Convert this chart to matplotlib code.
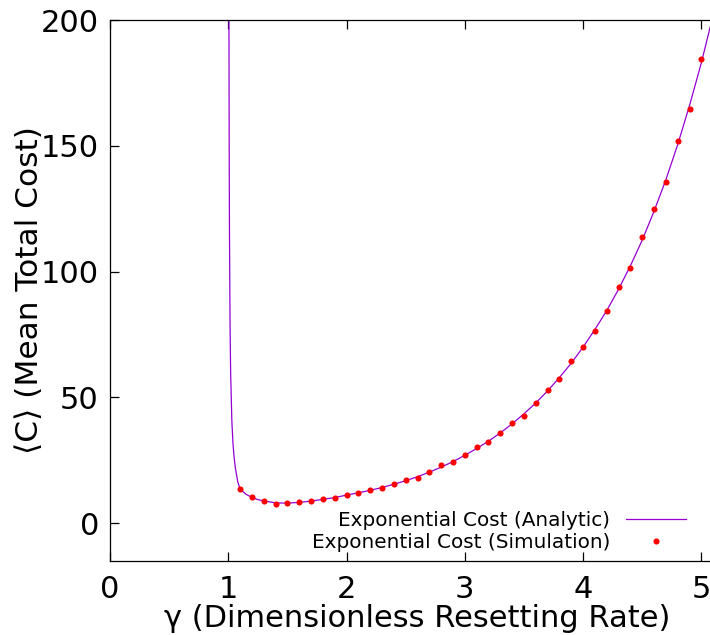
import matplotlib
matplotlib.use('Agg')
import matplotlib.pyplot as plt

# Analytic curve.
gamma_analytic = [1.004, 1.006, 1.008, 1.01, 1.015, 1.02, 1.03, 1.04, 1.05,
                  1.06, 1.08, 1.1, 1.15, 1.2, 1.25, 1.3, 1.4, 1.5, 1.6, 1.7,
                  1.8, 1.9, 2.0, 2.1, 2.2, 2.3, 2.4, 2.5, 2.6, 2.7, 2.8, 2.9,
                  3.0, 3.1, 3.2, 3.3, 3.4, 3.5, 3.6, 3.7, 3.8, 3.9, 4.0, 4.1,
                  4.2, 4.3, 4.4, 4.5, 4.6, 4.7, 4.8, 4.9, 5.0, 5.1, 5.2]
cost_analytic = [290, 192, 145, 117, 79, 60, 41, 31.5, 26, 22, 16.5, 13.6,
                 11.5, 10.3, 9.4, 8.9, 8.1, 8.0, 8.3, 8.8, 9.5, 10.2, 11.2,
                 12.1, 13.1, 14.2, 15.5, 16.9, 18.5, 20.3, 22.3, 24.5, 27.0,
                 29.7, 32.6, 35.9, 39.5, 43.5, 47.8, 52.6, 57.9, 63.6, 70.0,
                 77.0, 84.5, 93.0, 102.3, 112.5, 124.0, 136.5, 150.5, 166.0,
                 183.0, 202.0, 223.0]

# Simulation points.
gamma_sim = [1.1, 1.2, 1.3, 1.4, 1.5, 1.6, 1.7, 1.8, 1.9, 2.0, 2.1, 2.2, 2.3,
             2.4, 2.5, 2.6, 2.7, 2.8, 2.9, 3.0, 3.1, 3.2, 3.3, 3.4, 3.5, 3.6,
             3.7, 3.8, 3.9, 4.0, 4.1, 4.2, 4.3, 4.4, 4.5, 4.6, 4.7, 4.8, 4.9,
             5.0]
cost_sim = [13.5, 10.3, 8.9, 7.8, 8.2, 8.3, 8.9, 9.5, 10.2, 11.2, 12.0, 13.2,
            14.0, 15.5, 17.0, 18.1, 20.2, 23.0, 24.3, 27.1, 30.3, 32.1, 35.7,
            39.8, 42.5, 47.7, 52.9, 57.3, 64.6, 70.1, 76.5, 84.4, 93.9, 101.6,
            113.8, 124.9, 135.6, 151.9, 164.8, 184.4]

x_ticks = [0, 1, 2, 3, 4, 5]
y_ticks = [0, 50, 100, 150, 200]

fig = plt.figure(figsize=(7.1, 6.35), dpi=100)
ax = fig.add_axes([110 / 710, 74 / 635, 615 / 710, 541 / 635])

ax.plot(gamma_analytic, cost_analytic, color='#9400d3', linewidth=0.9,
        label='Exponential Cost (Analytic)')
ax.plot(gamma_sim, cost_sim, linestyle='none', marker='o', markersize=4.4,
        color='red', markeredgewidth=0,
        label='Exponential Cost (Simulation)')

ax.set_xlim(0, 5.2)
ax.set_ylim(-15, 200)
ax.set_xticks(x_ticks)
ax.set_yticks(y_ticks)
ax.tick_params(direction='in', length=6.5, width=0.9, labelsize=22,
               top=True, right=True, pad=8)
ax.tick_params(axis='x', pad=10)
for s in ax.spines.values():
    s.set_linewidth(0.9)

ax.set_xlabel('γ (Dimensionless Resetting Rate)', fontsize=22, labelpad=0)
ax.set_ylabel('⟨C⟩ (Mean Total Cost)', fontsize=22.5)
ax.yaxis.set_label_coords(-0.108, 0.5)

ax.legend(loc='lower right', bbox_to_anchor=(686 / 710, 83 / 635),
          bbox_transform=fig.transFigure, frameon=False, markerfirst=False,
          fontsize=14.4, borderpad=0, borderaxespad=0, handlelength=3.0,
          handletextpad=0.8, labelspacing=0.15, numpoints=1)

plt.savefig('out.png', dpi=100)
